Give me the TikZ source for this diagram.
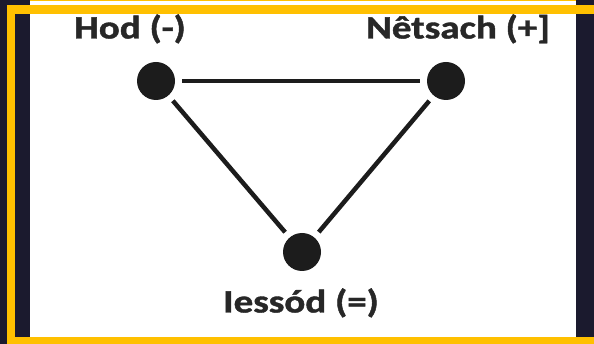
\documentclass[tikz,border=0pt]{standalone}
\usepackage{fontspec}
\setmainfont{Carlito}
\newfontfamily\lblfont[FakeBold=1.2]{Carlito Bold}
\definecolor{navy}{HTML}{1B1A2E}
\definecolor{gold}{HTML}{FFC000}
\definecolor{ink}{HTML}{1C1C1C}
\begin{document}
\begin{tikzpicture}[x=1pt,y=-1pt,
  dot/.style={circle,fill=ink,minimum size=38pt,inner sep=0pt,outer sep=7pt},
  edge/.style={draw=ink,line width=4.5pt},
  lbl/.style={font=\lblfont\fontsize{32.5}{32.5}\selectfont,text=ink!95,inner sep=0pt,anchor=base,xscale=1.2}]
\useasboundingbox (0,0) rectangle (594,344);
\fill[navy] (0,0) rectangle (594,344);
\fill[white] (30,1) rectangle (576,337);
\fill[gold] (30,0) rectangle (576,1.2);
\fill[gold] (7,5) rectangle (594,14);
\fill[gold] (7,5) rectangle (15,344);
\fill[gold] (7,337) rectangle (594,344);
\node[dot] (hod) at (156,81) {};
\node[dot] (net) at (446,81) {};
\node[dot] (ies) at (302,252) {};
\draw[edge] (hod) -- (net);
\draw[edge] (hod) -- (ies);
\draw[edge] (net) -- (ies);
\node[lbl] (thod) at (130,38.5) {Hod (-)};
\node[lbl] (tnet) at (458,38.5) {Nêtsach (+]};
\node[lbl] (ties) at (301,312.5) {Iessód (=)};
\end{tikzpicture}
\end{document}
